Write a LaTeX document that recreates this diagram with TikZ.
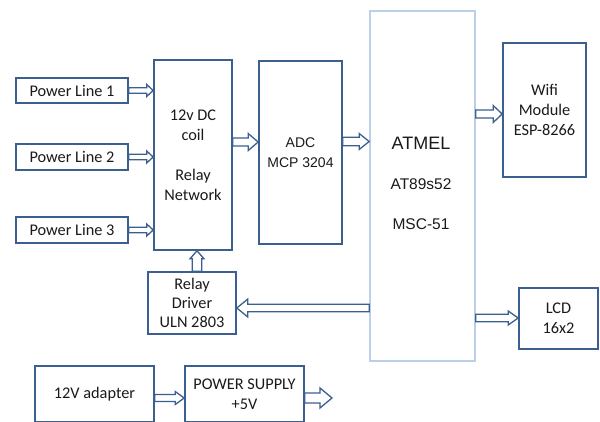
\documentclass[tikz,border=0pt]{standalone}
\usepackage{fontspec}
\setmainfont{Carlito}
\newfontfamily\arialf{Liberation Sans}
\usetikzlibrary{calc}
\definecolor{bdr}{HTML}{3B5F8E}
\definecolor{lbdr}{HTML}{BACFE8}
\definecolor{txt}{HTML}{1A1A1A}
\tikzset{
  blk/.style={draw=bdr, line width=1.6pt, fill=white, inner sep=0pt, align=center, text=txt,
    font=\fontsize{16.3}{20}\selectfont},
  lblk/.style={blk, draw=lbdr},
  barrow/.style={draw=bdr, line width=1.3pt, fill=white, line join=miter},
  plain/.style={inner sep=0pt, align=center, text=txt}
}
\newcommand\blockarr[5]{%
  \path ($(#5)!#3!(#4)$) coordinate (bh);
  \draw[barrow] ($(#4)!#1!90:(#5)$) -- ($(bh)!#1!90:(#5)$) -- ($(bh)!#2!90:(#5)$) -- (#5)
    -- ($(bh)!#2!-90:(#5)$) -- ($(bh)!#1!-90:(#5)$) -- ($(#4)!#1!-90:(#5)$) -- cycle;}
\begin{document}
\begin{tikzpicture}[x=1pt,y=-1pt]
\clip (0,0) rectangle (600,421);
\fill[white] (0,0) rectangle (600,421);
% boxes
\node[blk, minimum width=112pt, minimum height=25pt] (pl1) at (72,90.5) {Power Line 1};
\node[blk, minimum width=112pt, minimum height=26pt] (pl2) at (72,157) {Power Line 2};
\node[blk, minimum width=112pt, minimum height=26pt] (pl3) at (72,230) {Power Line 3};
\node[blk, minimum width=78pt, minimum height=190pt] (relay) at (193,155) {12v DC\\coil\\[20pt]Relay\\Network};
\node[blk, minimum width=83pt, minimum height=183pt, font=\arialf\fontsize{14}{20}\selectfont] (adc) at (300.5,152.5) {ADC\\MCP 3204};
\node[lblk, minimum width=105pt, minimum height=350pt] (atmel) at (422.5,186) {};
\node[plain, font=\arialf\fontsize{15.5}{20}\selectfont] (atmeltxt) at (421,183) {{\fontsize{18}{20}\selectfont ATMEL}\\[20pt]AT89s52\\[20pt]MSC-51};
\node[blk, minimum width=83pt, minimum height=134pt] (wifi) at (544.5,110) {Wifi\\Module\\ESP-8266};
\node[blk, minimum width=79pt, minimum height=61pt] (lcd) at (558.5,318.5) {LCD\\16x2};
\node[blk, minimum width=88pt, minimum height=62pt, font=\fontsize{16.3}{19}\selectfont] (driver) at (192,303) {Relay\\Driver\\ULN 2803};
\node[blk, minimum width=119pt, minimum height=56pt] (adapter) at (94.5,394) {12V adapter};
\node[blk, minimum width=119pt, minimum height=56pt] (ps) at (244.5,394) {POWER SUPPLY\\+5V};
% connector end points
\coordinate (p1s) at (pl1.east);
\coordinate (p1e) at (relay.west |- pl1.east);
\coordinate (p2s) at (pl2.east);
\coordinate (p2e) at (relay.west |- pl2.east);
\coordinate (p3s) at (pl3.east);
\coordinate (p3e) at (relay.west |- pl3.east);
\coordinate (ras) at (relay.east |- 0,142);
\coordinate (rae) at (adc.west |- 0,142);
\coordinate (aas) at (adc.east |- 0,141.5);
\coordinate (aae) at (atmel.west |- 0,141.5);
\coordinate (aws) at (atmel.east |- 0,114);
\coordinate (awe) at (wifi.west |- 0,114);
\coordinate (als) at (atmel.east |- 0,318);
\coordinate (ale) at (lcd.west |- 0,318);
\coordinate (ads) at (atmel.west |- 0,308);
\coordinate (ade) at (driver.east |- 0,308);
\coordinate (drs) at (driver.north -| 197,0);
\coordinate (dre) at (relay.south -| 197,0);
\coordinate (aps) at (adapter.east |- 0,398);
\coordinate (ape) at (ps.west |- 0,398);
\coordinate (pss) at (ps.east |- 0,398);
\coordinate (pse) at (332,398);
% block arrows
\blockarr{2.8pt}{6pt}{6.5pt}{p1s}{p1e}
\blockarr{2.8pt}{6pt}{6.5pt}{p2s}{p2e}
\blockarr{2.8pt}{6pt}{6.5pt}{p3s}{p3e}
\blockarr{4pt}{8.5pt}{10pt}{ras}{rae}
\blockarr{4.2pt}{8pt}{10pt}{aas}{aae}
\blockarr{4pt}{8.5pt}{9pt}{aws}{awe}
\blockarr{3.8pt}{7pt}{10pt}{als}{ale}
\blockarr{3.8pt}{9pt}{11pt}{ads}{ade}
\blockarr{4.8pt}{7pt}{8pt}{drs}{dre}
\blockarr{3.5pt}{6.5pt}{9pt}{aps}{ape}
\blockarr{5pt}{10pt}{12pt}{pss}{pse}
\end{tikzpicture}
\end{document}
